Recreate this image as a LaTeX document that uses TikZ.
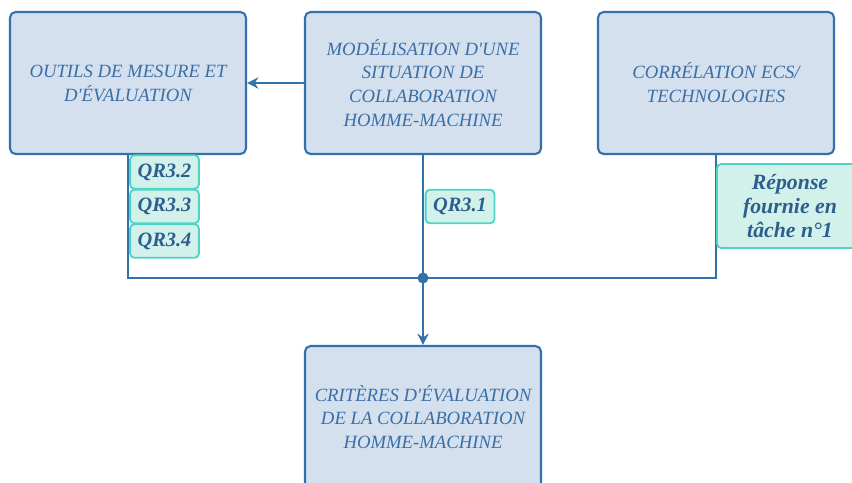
\documentclass[tikz,border=0pt]{standalone}
\usepackage{fontspec}
\setmainfont{Liberation Serif}[Ligatures=TeXOff]
\usetikzlibrary{arrows.meta,positioning}
\definecolor{bord}{HTML}{3371AA}
\definecolor{boxfill}{HTML}{D5E0EF}
\definecolor{txt}{HTML}{3A6FA6}
\definecolor{tagbord}{HTML}{4DD4C4}
\definecolor{tagfill}{HTML}{D3F1EB}
\definecolor{tagtxt}{HTML}{2D5F8E}

\begin{document}
\begin{tikzpicture}[x=0.025cm,y=-0.025cm,>={Stealth[length=8pt,width=8pt]},
  box/.style={draw=bord,fill=boxfill,line width=1.5pt,rounded corners=4pt,
    minimum width=5.9cm,minimum height=3.55cm,inner sep=2pt,align=center,
    text=txt,font=\itshape\fontsize{13.3}{17}\selectfont},
  tag/.style={draw=tagbord,fill=tagfill,line width=1.3pt,rounded corners=3pt,
    minimum width=1.72cm,minimum height=0.84cm,inner sep=1pt,align=center,
    text=tagtxt,font=\bfseries\itshape\fontsize{14.5}{17}\selectfont},
  link/.style={draw=bord,line width=2pt}]
\useasboundingbox (0,0) rectangle (852,482);
\clip (0,0) rectangle (852,482);
% boxes
\node[box] (outils) at (128,83) {OUTILS DE MESURE ET\\D'ÉVALUATION};
\node[box] (modele) at (423,83) {MODÉLISATION D'UNE\\SITUATION DE\\COLLABORATION\\HOMME-MACHINE};
\node[box] (correl) at (716,83) {CORRÉLATION ECS/\\TECHNOLOGIES};
\node[box] (criteres) at (423,417) {CRITÈRES D'ÉVALUATION\\DE LA COLLABORATION\\HOMME-MACHINE};
\coordinate (j) at (423,278);
% connectors
\draw[link,->] (modele.west) -- (outils.east);
\draw[link] (outils.south) -- (outils.south |- j) -- (j);
\draw[link] (correl.south) -- (correl.south |- j) -- (j);
\draw[link,->] (modele.south) -- (criteres.north);
\fill[bord] (j) circle (5.5);
% answers
\node[tag] (qr2) at (164.5,172) {QR3.2};
\node[tag] (qr3) at (164.5,206.5) {QR3.3};
\node[tag] (qr4) at (164.5,241) {QR3.4};
\node[tag] (qr1) at (460,206.5) {QR3.1};
\node[tag,minimum width=3.65cm,minimum height=2.1cm,font=\bfseries\itshape\fontsize{15.5}{17}\selectfont] (rep) at (790,206) {Réponse\\fournie en\\tâche n°1};
\end{tikzpicture}
\end{document}
